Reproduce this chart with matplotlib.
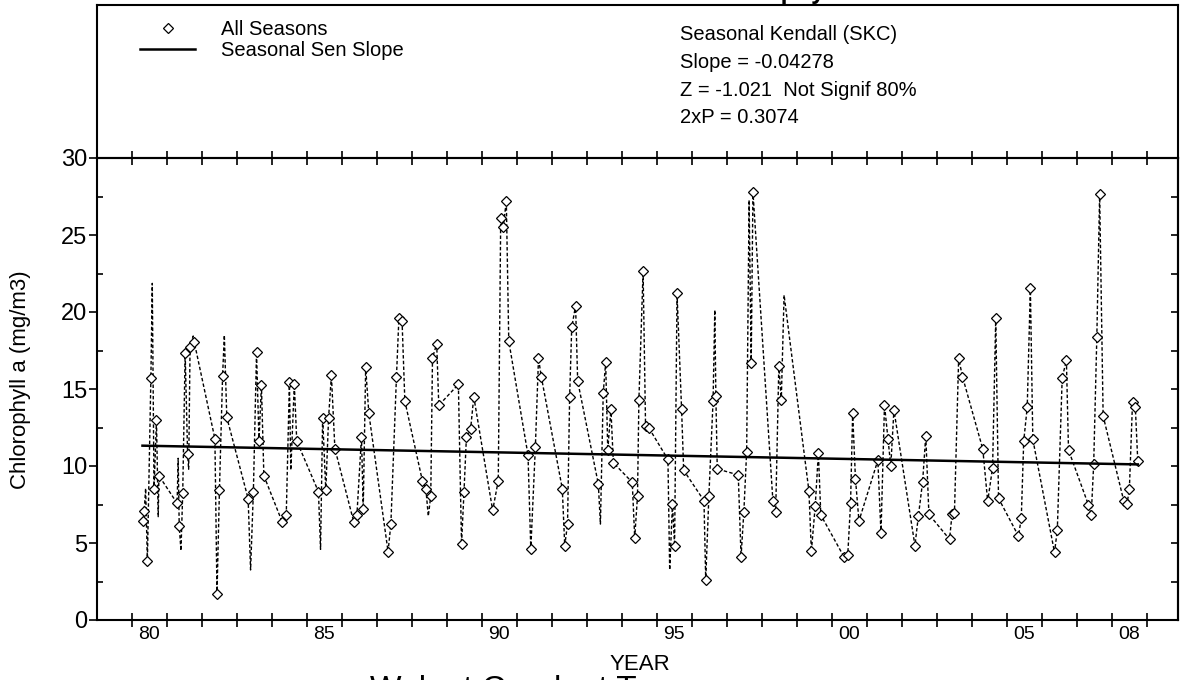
import numpy as np
import matplotlib
matplotlib.use("Agg")
import matplotlib.pyplot as plt
from matplotlib.lines import Line2D

plt.rcParams["font.family"] = ["Liberation Sans", "DejaVu Sans"]

year = [
    1980.32, 1980.35, 1980.44, 1980.54, 1980.63, 1980.70, 1980.77,
    1981.29, 1981.35, 1981.45, 1981.52, 1981.59, 1981.66, 1981.78,
    1982.37, 1982.43, 1982.50, 1982.59, 1982.71,
    1983.32, 1983.47, 1983.56, 1983.63, 1983.70, 1983.77,
    1984.29, 1984.41, 1984.50, 1984.64, 1984.71,
    1985.33, 1985.45, 1985.54, 1985.62, 1985.70, 1985.80,
    1986.34, 1986.43, 1986.56, 1986.61, 1986.68, 1986.77,
    1987.32, 1987.40, 1987.56, 1987.63, 1987.72, 1987.80,
    1988.30, 1988.40, 1988.54, 1988.59, 1988.71, 1988.77,
    1989.33, 1989.42, 1989.49, 1989.56, 1989.68, 1989.77,
    1990.31, 1990.47, 1990.54, 1990.61, 1990.70, 1990.77,
    1991.32, 1991.40, 1991.53, 1991.62, 1991.70,
    1992.30, 1992.37, 1992.45, 1992.51, 1992.57, 1992.68, 1992.74,
    1993.33, 1993.47, 1993.54, 1993.60, 1993.69, 1993.76,
    1994.30, 1994.37, 1994.45, 1994.49, 1994.61, 1994.68, 1994.77,
    1995.32, 1995.45, 1995.51, 1995.58, 1995.71, 1995.77,
    1996.35, 1996.40, 1996.49, 1996.61, 1996.69, 1996.73,
    1997.33, 1997.41, 1997.49, 1997.57, 1997.70, 1997.75,
    1998.32, 1998.40, 1998.49, 1998.56,
    1999.35, 1999.42, 1999.53, 1999.62, 1999.69,
    2000.35, 2000.46, 2000.54, 2000.60, 2000.68, 2000.78,
    2001.32, 2001.41, 2001.51, 2001.61, 2001.69, 2001.78,
    2002.38, 2002.48, 2002.60, 2002.69, 2002.78,
    2003.37, 2003.44, 2003.51, 2003.63, 2003.74,
    2004.32, 2004.46, 2004.60, 2004.69, 2004.77,
    2005.34, 2005.42, 2005.49, 2005.59, 2005.68, 2005.75,
    2006.37, 2006.45, 2006.59, 2006.71, 2006.77,
    2007.34, 2007.42, 2007.49, 2007.58, 2007.66, 2007.76,
    2008.35, 2008.44, 2008.51, 2008.60, 2008.68, 2008.75,
]
chla = [
    6.45, 7.10, 3.83, 15.69, 8.48, 12.99, 9.37,
    7.58, 6.13, 8.22, 17.36, 10.76, 17.71, 18.05,
    11.77, 1.67, 8.46, 15.87, 13.16,
    7.88, 8.33, 17.38, 11.64, 15.26, 9.37,
    6.39, 6.84, 15.43, 15.30, 11.62,
    8.33, 13.14, 8.42, 13.14, 15.90, 11.13,
    6.36, 6.84, 11.90, 7.23, 16.40, 13.42,
    4.44, 6.23, 15.80, 19.63, 19.42, 14.22,
    9.05, 8.53, 8.03, 17.03, 17.92, 13.94,
    15.30, 4.94, 8.31, 11.90, 12.40, 14.50,
    7.12, 9.05, 26.08, 25.50, 27.21, 18.12,
    10.71, 4.61, 11.21, 16.99, 15.80,
    8.53, 4.83, 6.23, 14.50, 19.00, 20.41, 15.52,
    8.83, 14.72, 16.73, 11.02, 13.70, 10.21,
    8.94, 5.35, 8.03, 14.29, 22.68, 12.62, 12.49,
    10.43, 7.53, 4.83, 21.21, 13.70, 9.72,
    7.75, 2.60, 8.05, 14.22, 14.55, 9.81,
    9.42, 4.11, 7.03, 10.93, 16.71, 27.79,
    7.75, 7.03, 16.52, 14.29,
    8.38, 4.46, 7.40, 10.87, 6.82,
    4.11, 4.22, 7.58, 13.42, 9.18, 6.43,
    10.37, 5.63, 13.96, 11.77, 10.00, 13.64,
    4.83, 6.77, 8.98, 11.97, 6.86,
    5.24, 6.86, 6.97, 16.99, 15.80,
    11.10, 7.70, 9.90, 19.60, 7.90,
    5.45, 6.60, 11.62, 13.81, 21.58, 11.73,
    4.39, 5.84, 15.74, 16.86, 11.04,
    7.47, 6.82, 10.13, 18.40, 27.64, 13.25,
    7.73, 7.51, 8.50, 14.16, 13.83, 10.32,
]

# line vertices drawn without a marker
spike_year = [1980.39, 1980.58, 1980.75, 1981.32, 1981.40, 1981.62, 1981.75,
              1982.64, 1983.39, 1984.54, 1985.39, 1988.47, 1993.39, 1995.37,
              1996.66, 1997.64, 1998.64]
spike_chla = [8.55, 21.86, 6.71, 10.50, 4.50, 9.79, 18.44,
              18.50, 3.25, 9.74, 4.59, 6.75, 6.23, 3.25,
              20.13, 27.27, 21.10]

sen_years = [1980.30, 2008.75]
sen_start = 11.32
sen_slope = -0.04278

label_years = [1980, 1985, 1990, 1995, 2000, 2005, 2008]
label_text = ["80", "85", "90", "95", "00", "05", "08"]

stats_text = ["Seasonal Kendall (SKC)", "Slope = -0.04278",
              "Z = -1.021  Not Signif 80%", "2xP = 0.3074"]

W, H = 1180, 680
fig = plt.figure(figsize=(W / 100, H / 100), dpi=100)

L, R, T, B = 97, 1178, 158, 620
ax = fig.add_axes([L / W, 1 - B / H, (R - L) / W, (B - T) / H])

# dashed series through all vertices
lx = np.concatenate([year, spike_year])
ly = np.concatenate([chla, spike_chla])
order = np.argsort(lx, kind="stable")
ax.plot(lx[order], ly[order], color="black", lw=1.0, ls=(0, (2.5, 1.6)), zorder=2)
ax.plot(year, chla, ls="none", marker="D", ms=5.0, mfc="white", mec="black",
        mew=0.9, zorder=3)

sx = np.array(sen_years)
ax.plot(sx, sen_start + sen_slope * (sx - sen_years[0]), color="black", lw=1.8, zorder=4)

ax.set_xlim(1979, 2009.9)
ax.set_ylim(0, 30)

ax.set_xticks(range(1980, 2010))
ax.set_xticklabels([])
ax.set_xticks([y + 0.5 for y in label_years], label_text, minor=True)
ax.tick_params(axis="x", which="major", direction="inout", length=10, width=1.2,
               top=True, bottom=True)
ax.tick_params(axis="x", which="minor", length=0, labelsize=14, pad=4)

ax.set_yticks(range(0, 31, 5))
ax.set_yticks(np.arange(2.5, 30, 5), minor=True)
ax.tick_params(axis="y", which="major", direction="out", length=6, width=1.2,
               labelsize=17, pad=1)
ax.tick_params(axis="y", which="minor", direction="in", length=4, width=1.2)

sec = ax.secondary_yaxis("right")
sec.set_yticks(np.arange(2.5, 30, 2.5))
sec.set_yticklabels([])
sec.tick_params(direction="in", length=5, width=1.2)
sec.spines["right"].set_linewidth(1.5)

for s in ax.spines.values():
    s.set_linewidth(1.5)

# header box above the plot
box = fig.add_axes([L / W, 1 - T / H, (R - L) / W, (T - 5) / H])
box.set_xticks([])
box.set_yticks([])
for s in box.spines.values():
    s.set_linewidth(1.5)
box.patch.set_alpha(0)

handles = [
    Line2D([], [], ls="none", marker="D", ms=5.0, mfc="white", mec="black", mew=0.9),
    Line2D([], [], color="black", lw=1.8),
]
fig.legend(handles, ["All Seasons", "Seasonal Sen Slope"], loc="upper left",
           bbox_to_anchor=(140 / W, 1 - 20 / H), frameon=False, fontsize=14.5,
           borderpad=0, borderaxespad=0, handlelength=2.75, handletextpad=1.25,
           labelspacing=0.12)

for i, line in enumerate(stats_text):
    fig.text(680 / W, 1 - (35 + 27.5 * i) / H, line, fontsize=14.5, va="center", ha="left")

fig.text(21 / W, 1 - 380 / H, "Chlorophyll a (mg/m3)", rotation=90, fontsize=16,
         ha="center", va="center")
fig.text(640 / W, 1 - 665 / H, "YEAR", fontsize=16, ha="center", va="center")

# title and site name sit mostly outside the cropped frame, as in the source
fig.text(700 / W, 1 + 1 / H, "Chlorophyll a", fontsize=18, fontweight="bold",
         ha="left", va="baseline")
fig.text(370 / W, 1 - 699 / H, "Walnut Creek at T", fontsize=24,
         ha="left", va="baseline")

fig.savefig("out.png", dpi=100)
